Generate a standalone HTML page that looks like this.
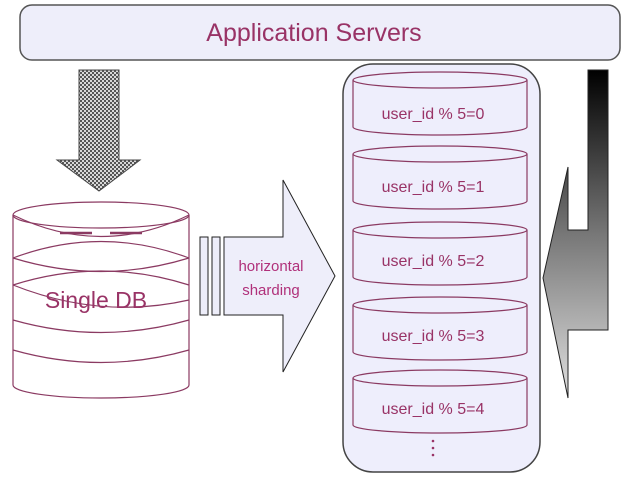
<!DOCTYPE html>
<html><head><style>
html,body{margin:0;padding:0;background:#fff;}
svg{display:block;}
text{font-family:"Liberation Sans",sans-serif;}
</style></head><body>
<svg width="626" height="481" viewBox="0 0 626 481">
<defs>
<pattern id="chk" width="4" height="4" patternUnits="userSpaceOnUse">
<rect width="4" height="4" fill="#d8d8d8"/>
<rect width="2" height="2" fill="#555"/><rect x="2" y="2" width="2" height="2" fill="#555"/>
</pattern>
<linearGradient id="g" x1="0" y1="0" x2="0" y2="1">
<stop offset="0" stop-color="#000"/><stop offset="0.5" stop-color="#777"/><stop offset="1" stop-color="#e0e0e0"/>
</linearGradient>
</defs>
<rect x="20" y="5" width="600" height="55" rx="12" fill="#eeeefa" stroke="#555" stroke-width="1.5"/>
<text x="314" y="41" text-anchor="middle" font-size="25" fill="#993366">Application  Servers</text>

<polygon points="79,70 119,70 119,160 140,160 99,191 57,160 79,160" fill="url(#chk)" stroke="#444"/>

<g fill="none" stroke="#8b3a62" stroke-width="1.2">
<path d="M13,215 V385 A88,13 0 0 0 189,385 V215"/>
<ellipse cx="101" cy="215" rx="88" ry="13" fill="#fff"/>
<path d="M13,215 Q101,258 189,215"/>
<path d="M13,258 Q101,225 189,258"/>
<path d="M13,258 Q101,285 189,258"/>
<path d="M13,285 Q101,257 189,285"/>
<path d="M13,285 Q101,320 189,300"/>
<path d="M13,320 Q101,345 189,320"/>
<path d="M13,350 Q101,375 189,350"/>
<line x1="60" y1="233" x2="92" y2="233" stroke-width="2.5"/>
<line x1="110" y1="233" x2="142" y2="233" stroke-width="2.5"/>
</g>
<text x="96" y="308" text-anchor="middle" font-size="23" fill="#993366">Single DB</text>

<rect x="200" y="237" width="8" height="78" fill="#eeeefa" stroke="#222"/>
<rect x="212" y="237" width="8" height="78" fill="#eeeefa" stroke="#222"/>
<polygon points="224,237 283,237 283,180 335,276 283,372 283,315 224,315" fill="#eeeefa" stroke="#222"/>
<text x="271" y="271" text-anchor="middle" font-size="15" fill="#b0307a">horizontal</text>
<text x="271" y="295" text-anchor="middle" font-size="15" fill="#b0307a">sharding</text>

<rect x="343" y="64" width="197" height="408" rx="30" fill="#eeeefc" stroke="#444" stroke-width="1.5"/>
<g fill="none" stroke="#8b3a62" stroke-width="1.2">
<g id="c"><path d="M353,80 V127 A87,8 0 0 0 527,127 V80"/><ellipse cx="440" cy="80" rx="87" ry="8"/></g>
<use href="#c" y="74"/><use href="#c" y="150"/><use href="#c" y="225"/><use href="#c" y="298"/>
</g>
<g font-size="16" fill="#993366" text-anchor="middle">
<text x="433" y="119">user_id % 5=0</text>
<text x="433" y="192">user_id % 5=1</text>
<text x="433" y="266">user_id % 5=2</text>
<text x="433" y="341">user_id % 5=3</text>
<text x="433" y="414">user_id % 5=4</text>
</g>
<g fill="#993366"><circle cx="433" cy="441" r="1.3"/><circle cx="433" cy="448" r="1.3"/><circle cx="433" cy="455" r="1.3"/></g>

<polygon points="588,70 608,70 608,330 568,330 568,398 543,278 568,167 568,230 588,230" fill="url(#g)" stroke="#222"/>
</svg>
</body></html>
